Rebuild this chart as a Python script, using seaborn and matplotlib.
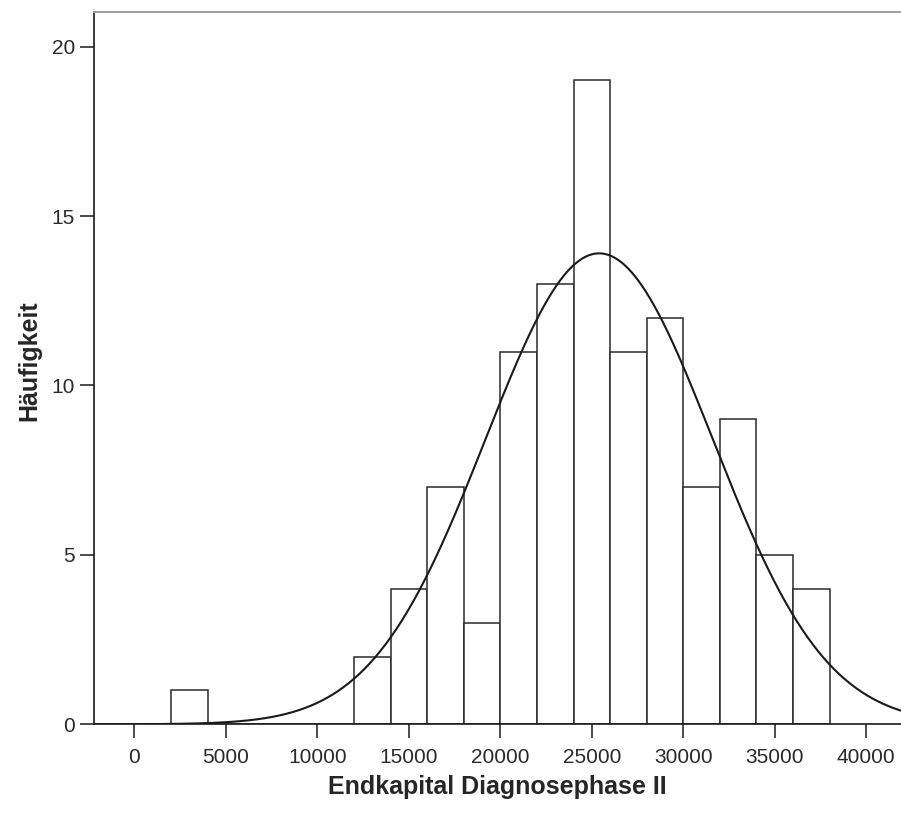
import numpy as np
import pandas as pd
import matplotlib
matplotlib.use("Agg")
import matplotlib.pyplot as plt
import seaborn as sns

# Klassen (Klassenbreite 2000) und Häufigkeiten
bin_edges = [2000, 4000, 6000, 8000, 10000, 12000, 14000, 16000, 18000, 20000,
             22000, 24000, 26000, 28000, 30000, 32000, 34000, 36000, 38000]
counts = [1, 0, 0, 0, 0, 2, 4, 7, 3, 11, 13, 19, 11, 12, 7, 9, 5, 4]

# Parameter der Normalverteilungskurve (geschätzt)
mean_val = 25400
sd_val = 6200
n_total = sum(counts)
bin_width = 2000

x_ticks = [0, 5000, 10000, 15000, 20000, 25000, 30000, 35000, 40000]
y_ticks = [0, 5, 10, 15, 20]

sns.set_theme(style="white")
plt.rcParams['font.family'] = ['Liberation Sans', 'DejaVu Sans']

df = pd.DataFrame({
    "mitte": [e + bin_width / 2 for e in bin_edges[:-1]],
    "anzahl": counts,
})

fig = plt.figure(figsize=(9.01, 8.14), dpi=100)
ax = fig.add_axes([0.1046, 0.1102, 0.8954, 0.875])

sns.histplot(data=df, x="mitte", weights="anzahl", bins=bin_edges,
             color="white", edgecolor="#2a2a2a", linewidth=1.1, alpha=1, ax=ax)

# Normalverteilungskurve
xs = np.linspace(-2200, 42000, 600)
ys = n_total * bin_width / (sd_val * np.sqrt(2 * np.pi)) * np.exp(-0.5 * ((xs - mean_val) / sd_val) ** 2)
sns.lineplot(x=xs, y=ys, color="#1a1a1a", linewidth=1.5, ax=ax)

ax.set_xlim(-2200, 41900)
ax.set_ylim(0, 21.02)
ax.set_xticks(x_ticks)
ax.set_yticks(y_ticks)
ax.tick_params(axis="both", which="major", direction="out", length=10, width=1.1,
               color="#1a1a1a", labelsize=15, labelcolor="#2a2a2a", bottom=True, left=True)
ax.tick_params(axis="x", pad=7)
ax.tick_params(axis="y", pad=4)

for side in ["left", "bottom"]:
    ax.spines[side].set_color("#1a1a1a")
    ax.spines[side].set_linewidth(1.2)
ax.spines["top"].set_color("#a0a0a0")
ax.spines["top"].set_linewidth(1.5)
ax.spines["right"].set_visible(False)

ax.set_xlabel("Endkapital Diagnosephase II", fontsize=18, fontweight="bold", labelpad=6)
ax.set_ylabel("Häufigkeit", fontsize=18, fontweight="bold")
ax.yaxis.set_label_coords(-0.066, 0.51)

fig.savefig("out.png", dpi=100)
